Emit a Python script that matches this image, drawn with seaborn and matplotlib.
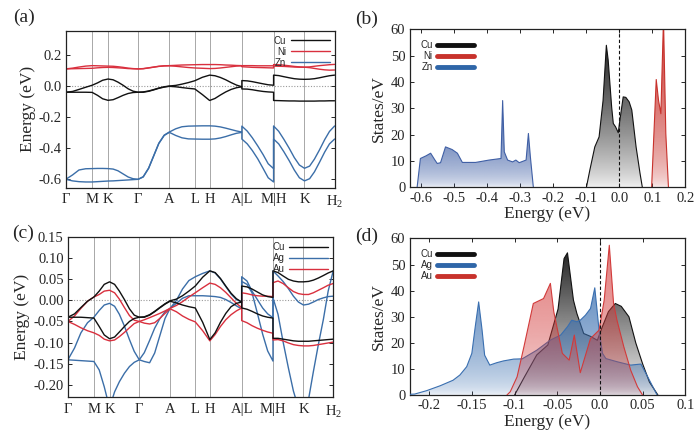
import numpy as np
import pandas as pd
import matplotlib
matplotlib.use("Agg")
import matplotlib.pyplot as plt
import matplotlib.colors as mcolors
from matplotlib.patches import PathPatch
from matplotlib.lines import Line2D
import seaborn as sns

sns.set_theme(style="ticks")
plt.rcParams["font.family"] = ["Liberation Serif", "DejaVu Serif"]
plt.rcParams["mathtext.fontset"] = "custom"
plt.rcParams["mathtext.rm"] = "Liberation Serif"
plt.rcParams["axes.edgecolor"] = "#222222"
plt.rcParams["axes.linewidth"] = 0.9

# ---------------- band structure data ----------------
k_ticks = [0.000, 0.098, 0.157, 0.269, 0.385, 0.480, 0.535, 0.655, 0.773, 0.888, 1.000]
k_labels = ["Γ", "M", "K", "Γ", "A", "L", "H", "A|L", "M|H", "K", "H$_2$"]

k_path = [
    0.000, 0.025, 0.049, 0.074, 0.098,                 # G-M
    0.118, 0.137, 0.157,                               # M-K
    0.176, 0.194, 0.213, 0.232, 0.250, 0.269,          # K-G
    0.288, 0.308, 0.327, 0.346, 0.366, 0.385,          # G-A
    0.409, 0.432, 0.456, 0.480,                        # A-L
    0.508, 0.535,                                      # L-H
    0.555, 0.575, 0.595, 0.615, 0.635, 0.655,          # H-A
    0.655, 0.675, 0.694, 0.714, 0.734, 0.753, 0.773,   # L-M
    0.773, 0.792, 0.811, 0.831, 0.850, 0.869, 0.888,   # H-K
    0.907, 0.925, 0.944, 0.963, 0.981, 1.000]          # K-H2

# panel (a): Cu / Ni / Zn
cu_a_up = [
    -0.040, -0.035, -0.022, -0.008, 0.005,
    0.020, 0.037, 0.045,
    0.040, 0.025, 0.005, -0.018, -0.033, -0.040,
    -0.038, -0.032, -0.023, -0.013, -0.005, 0.000,
    0.004, 0.012, 0.022, 0.034,
    0.056, 0.070,
    0.066, 0.055, 0.040, 0.022, 0.006, -0.005,
    0.035, 0.033, 0.028, 0.021, 0.014, 0.008, 0.005,
    0.070, 0.067, 0.060, 0.053, 0.047, 0.044, 0.043,
    0.044, 0.047, 0.053, 0.060, 0.066, 0.070]
cu_a_dn = [
    -0.040, -0.040, -0.040, -0.040, -0.041,
    -0.060, -0.082, -0.092,
    -0.088, -0.075, -0.060, -0.048, -0.042, -0.040,
    -0.040, -0.034, -0.025, -0.015, -0.007, -0.002,
    -0.005, -0.010, -0.015, -0.019,
    -0.055, -0.093,
    -0.080, -0.058, -0.038, -0.022, -0.011, -0.005,
    -0.019, -0.020, -0.024, -0.030, -0.035, -0.038, -0.040,
    -0.093, -0.094, -0.095, -0.096, -0.096, -0.097, -0.097,
    -0.097, -0.097, -0.096, -0.096, -0.095, -0.095]
ni_a_up = [
    0.110, 0.115, 0.122, 0.128, 0.131,
    0.130, 0.129, 0.128,
    0.127, 0.124, 0.120, 0.115, 0.112, 0.110,
    0.112, 0.117, 0.122, 0.127, 0.130, 0.131,
    0.133, 0.135, 0.136, 0.137,
    0.138, 0.138,
    0.138, 0.137, 0.135, 0.134, 0.132, 0.131,
    0.131, 0.131, 0.131, 0.130, 0.130, 0.130, 0.130,
    0.138, 0.137, 0.134, 0.130, 0.126, 0.123, 0.121,
    0.123, 0.127, 0.131, 0.134, 0.137, 0.139]
ni_a_dn = [
    0.110, 0.111, 0.112, 0.113, 0.114,
    0.117, 0.119, 0.120,
    0.119, 0.117, 0.115, 0.112, 0.111, 0.110,
    0.111, 0.116, 0.121, 0.126, 0.129, 0.130,
    0.127, 0.123, 0.119, 0.116,
    0.114, 0.112,
    0.113, 0.116, 0.120, 0.124, 0.128, 0.130,
    0.124, 0.122, 0.120, 0.119, 0.118, 0.117, 0.116,
    0.128, 0.127, 0.126, 0.124, 0.122, 0.121, 0.121,
    0.118, 0.113, 0.108, 0.104, 0.102, 0.103]
zn_a_up = [
    -0.600, -0.572, -0.540, -0.532, -0.531,
    -0.530, -0.530, -0.531,
    -0.534, -0.545, -0.565, -0.585, -0.596, -0.600,
    -0.583, -0.528, -0.448, -0.368, -0.316, -0.296,
    -0.275, -0.262, -0.258, -0.257,
    -0.256, -0.256,
    -0.258, -0.263, -0.271, -0.280, -0.289, -0.296,
    -0.258, -0.290, -0.333, -0.385, -0.441, -0.500, -0.531,
    -0.257, -0.291, -0.342, -0.400, -0.460, -0.508, -0.529,
    -0.515, -0.470, -0.410, -0.345, -0.292, -0.257]
zn_a_dn = [
    -0.600, -0.610, -0.615, -0.617, -0.617,
    -0.615, -0.613, -0.611,
    -0.610, -0.608, -0.606, -0.604, -0.602, -0.600,
    -0.585, -0.530, -0.450, -0.370, -0.318, -0.298,
    -0.318, -0.333, -0.340, -0.341,
    -0.342, -0.342,
    -0.340, -0.334, -0.325, -0.314, -0.304, -0.298,
    -0.341, -0.372, -0.415, -0.468, -0.530, -0.590, -0.617,
    -0.341, -0.372, -0.422, -0.480, -0.540, -0.590, -0.610,
    -0.596, -0.552, -0.490, -0.425, -0.372, -0.341]

# panel (c): Cu / Ag / Au
cu_c_up = [
    -0.040, -0.032, -0.017, -0.002, 0.008,
    0.022, 0.038, 0.044,
    0.038, 0.022, 0.002, -0.020, -0.035, -0.040,
    -0.039, -0.034, -0.026, -0.017, -0.008, -0.001,
    0.003, 0.011, 0.022, 0.034,
    0.055, 0.070,
    0.066, 0.052, 0.034, 0.017, 0.004, -0.004,
    0.034, 0.032, 0.027, 0.020, 0.013, 0.009, 0.007,
    0.070, 0.066, 0.058, 0.050, 0.046, 0.044, 0.044,
    0.045, 0.048, 0.053, 0.059, 0.065, 0.070]
cu_c_dn = [
    -0.040, -0.040, -0.040, -0.041, -0.042,
    -0.062, -0.082, -0.091,
    -0.087, -0.075, -0.062, -0.050, -0.043, -0.040,
    -0.040, -0.035, -0.027, -0.018, -0.009, -0.002,
    -0.006, -0.011, -0.015, -0.018,
    -0.052, -0.093,
    -0.077, -0.052, -0.031, -0.015, -0.007, -0.004,
    -0.018, -0.021, -0.026, -0.032, -0.037, -0.040, -0.042,
    -0.090, -0.090, -0.092, -0.094, -0.096, -0.097, -0.097,
    -0.097, -0.096, -0.095, -0.094, -0.093, -0.092]
au_c_up = [
    -0.050, -0.037, -0.019, -0.002, 0.008,
    0.014, 0.022, 0.024,
    0.018, 0.003, -0.017, -0.036, -0.047, -0.050,
    -0.046, -0.041, -0.036, -0.031, -0.025, -0.019,
    -0.012, -0.003, 0.008, 0.018,
    0.030, 0.041,
    0.038, 0.030, 0.019, 0.006, -0.007, -0.017,
    0.018, 0.016, 0.013, 0.011, 0.010, 0.010, 0.009,
    0.042, 0.046, 0.040, 0.030, 0.021, 0.016, 0.014,
    0.014, 0.018, 0.024, 0.030, 0.036, 0.040]
au_c_dn = [
    -0.050, -0.057, -0.065, -0.072, -0.077,
    -0.083, -0.092, -0.096,
    -0.094, -0.086, -0.076, -0.065, -0.055, -0.050,
    -0.054, -0.056, -0.053, -0.043, -0.031, -0.020,
    -0.027, -0.037, -0.045, -0.051,
    -0.072, -0.096,
    -0.081, -0.062, -0.046, -0.034, -0.025, -0.018,
    -0.048, -0.053, -0.060, -0.066, -0.071, -0.075, -0.078,
    -0.094, -0.093, -0.096, -0.101, -0.105, -0.107, -0.108,
    -0.108, -0.107, -0.105, -0.103, -0.101, -0.099]
ag_c_1 = [
    -0.141, -0.113, -0.077, -0.053, -0.040,
    -0.024, -0.011, -0.007,
    -0.014, -0.033, -0.061, -0.093, -0.121, -0.141,
    -0.124, -0.095, -0.066, -0.044, -0.027, -0.019,
    0.000, 0.027, 0.047, 0.056,
    0.064, 0.070,
    0.065, 0.051, 0.033, 0.015, 0.002, -0.004,
    0.056, 0.046, 0.022, 0.002, -0.018, -0.032, -0.041,
    0.070, 0.058, 0.045, 0.028, 0.010, -0.004, -0.011,
    -0.009, -0.004, 0.002, 0.006, 0.009, 0.010]
ag_c_2 = [
    -0.141, -0.142, -0.143, -0.144, -0.145,
    -0.165, -0.205, -0.255,
    -0.217, -0.193, -0.173, -0.157, -0.147, -0.141,
    -0.145, -0.148, -0.125, -0.085, -0.043, -0.019,
    -0.007, 0.005, 0.011, 0.011,
    0.011, 0.010,
    0.009, 0.007, 0.002, -0.005, -0.013, -0.020,
    0.045, 0.038, 0.018, -0.030, -0.080, -0.120, -0.144,
    0.006, -0.033, -0.098, -0.160, -0.215, -0.255, -0.270,
    -0.235, -0.170, -0.105, -0.045, 0.022, 0.070]

# ---------------- DOS data ----------------
zn_E_b = [-0.612, -0.602, -0.585, -0.571, -0.558, -0.551, -0.541, -0.526, -0.506, -0.490,
          -0.475, -0.435, -0.394, -0.358, -0.353, -0.348, -0.338, -0.323, -0.313, -0.303,
          -0.282, -0.275, -0.269, -0.260]
zn_dos_b = [0, 11, 12, 13, 10.4, 9.1, 9.4, 15.4, 14.4, 13,
            9.5, 9.5, 10.4, 11, 33, 13.5, 10.4, 9.7, 10.4, 9.4,
            10.4, 20.5, 11.6, 0]
cu_E_b = [-0.0995, -0.089, -0.074, -0.061, -0.049, -0.039, -0.0335, -0.023, -0.018, -0.011,
          -0.003, 0.002, 0.012, 0.020, 0.030, 0.038, 0.051, 0.063, 0.070]
cu_dos_b = [0, 6.6, 15.4, 19.2, 33, 54, 48.4, 30.6, 24.3, 23,
            20.8, 25.6, 34.4, 34.2, 32.5, 29.4, 15.4, 5.3, 0]
ni_E_b = [0.098, 0.112, 0.119, 0.126, 0.134, 0.141, 0.149]
ni_dos_b = [0, 41, 33, 28, 64, 20.5, 0]

ag_E_d = [-0.224, -0.217, -0.203, -0.187, -0.172, -0.164, -0.156, -0.150, -0.146, -0.142,
          -0.138, -0.135, -0.129, -0.121, -0.113, -0.101, -0.091, -0.074, -0.058, -0.046,
          -0.038, -0.033, -0.027, -0.023, -0.017, -0.011, -0.006, -0.001, 0.003, 0.007,
          0.020, 0.036, 0.048, 0.056, 0.067]
ag_dos_d = [0.3, 0.4, 1.7, 3.6, 5.7, 7.7, 10.9, 16.0, 26.2, 35.7,
            24.9, 15.3, 11.5, 12.4, 13.1, 13.8, 13.9, 17.2, 21.1, 23.0,
            26.2, 28.7, 28.1, 28.7, 30.6, 33.2, 41.1, 24.9, 16.0, 14.0,
            12.8, 11.5, 11.9, 7.0, 0]
au_E_d = [-0.109, -0.105, -0.097, -0.089, -0.078, -0.066, -0.058, -0.054, -0.044, -0.036,
          -0.030, -0.023, -0.011, -0.001, 0.005, 0.011, 0.016, 0.020, 0.028, 0.036,
          0.044, 0.050]
au_dos_d = [0, 1.3, 7.0, 18.5, 35.1, 37.0, 42.8, 31.9, 16.0, 13.4,
            23.0, 8.6, 21.7, 24.9, 36.4, 57.4, 35.1, 28.7, 18.5, 9.6,
            3.2, 0]
cu_E_d = [-0.100, -0.089, -0.074, -0.061, -0.049, -0.042, -0.038, -0.031, -0.027, -0.019,
          -0.011, -0.003, 0.002, 0.010, 0.018, 0.025, 0.034, 0.042, 0.050, 0.058, 0.068]
cu_dos_d = [0, 6.6, 15.4, 19.2, 33, 52.3, 54.5, 36.4, 31.3, 23.6,
            22.5, 21.0, 25.5, 32.0, 35.1, 34.0, 30.0, 20.0, 12.0, 5.0, 0]

colors = {"Cu": "#111111", "Ni": "#d9303e", "Au": "#d9303e", "Zn": "#3b6ea8", "Ag": "#3b6ea8"}
legend_font = {"family": "Liberation Sans", "size": 7}


def draw_bands(ax, bands, ylim, yticks, ylabels, names):
    rows = []
    for i, (elem, vals) in enumerate(bands):
        for kk, ee in zip(k_path, vals):
            rows.append({"k": kk, "E": ee, "element": elem, "band": i})
    df = pd.DataFrame(rows)
    for kp in k_ticks[1:-1]:
        ax.axvline(kp, color="#a8a8a8", lw=0.7, zorder=0)
    ax.axhline(0, color="#9a9a9a", lw=0.8, ls=(0, (1, 1.5)), zorder=0)
    sns.lineplot(data=df, x="k", y="E", hue="element", units="band", estimator=None,
                 sort=False, palette=colors, linewidth=1.0, legend=False, ax=ax)
    ax.set_xlim(0, 1)
    ax.set_ylim(*ylim)
    ax.set_xticks(k_ticks)
    ax.set_xticklabels(k_labels)
    ax.set_yticks(yticks)
    ax.set_yticklabels(ylabels)
    ax.set_xlabel("")
    ax.set_ylabel("Energy (eV)", fontsize=12.5, labelpad=2)
    ax.tick_params(axis="y", direction="in", length=3, width=0.7, right=True, labelsize=10.5, pad=3)
    ax.tick_params(axis="x", length=0, labelsize=10.5, pad=4)
    handles = [Line2D([], [], color=colors[n], lw=1.0) for n in names]
    ax.legend(handles, names, loc="upper right", frameon=False, markerfirst=False, prop=legend_font,
              handlelength=4.0, handletextpad=0.5, labelspacing=0.1, borderaxespad=0.3, borderpad=0.2)


def dos_fill(ax, E, D, color, z, amax=0.92, power=0.5):
    sns.lineplot(x=E, y=D, color=color, lw=0.8, sort=False, estimator=None, ax=ax, zorder=z + 0.5)
    poly = ax.fill_between(E, 0, D, facecolor="none", edgecolor="none", zorder=z)
    grad = np.zeros((256, 1, 4))
    grad[..., :3] = mcolors.to_rgb(color)
    t = np.linspace(0, 1, 256)
    grad[..., 3] = (0.06 + (amax - 0.06) * t ** power)[:, None]
    im = ax.imshow(grad, aspect="auto", origin="lower", extent=[min(E), max(E), 0, max(D)],
                   zorder=z, interpolation="bilinear")
    clip = PathPatch(poly.get_paths()[0], transform=ax.transData, facecolor="none", edgecolor="none")
    ax.add_patch(clip)
    im.set_clip_path(clip)


def style_dos(ax, xlim, xticks, xlabels, names, cols):
    ax.axvline(0, color="#111111", lw=0.8, ls=(0, (3, 2)), zorder=6)
    ax.set_xlim(*xlim)
    ax.set_ylim(0, 60)
    ax.set_xticks(xticks)
    ax.set_xticklabels(xlabels)
    ax.set_yticks(range(0, 61, 10))
    ax.set_xlabel("Energy (eV)", fontsize=12.5, labelpad=1)
    ax.set_ylabel("States/eV", fontsize=12.5, labelpad=3)
    ax.tick_params(direction="in", length=3, width=0.7, top=True, right=True, labelsize=10.5, pad=3)
    handles = [Line2D([], [], color=c, lw=3.5) for c in cols]
    ax.legend(handles, names, loc="upper left", frameon=False, markerfirst=False, prop=legend_font,
              handlelength=3.8, handletextpad=0.5, labelspacing=0.1, borderaxespad=0.9, borderpad=0.2)


fig = plt.figure(figsize=(7, 4.4), dpi=100)
ax_a = fig.add_axes([0.094, 0.573, 0.384, 0.357])
ax_b = fig.add_axes([0.585, 0.574, 0.394, 0.359])
ax_c = fig.add_axes([0.097, 0.097, 0.379, 0.364])
ax_d = fig.add_axes([0.585, 0.102, 0.394, 0.356])

draw_bands(ax_a, [("Cu", cu_a_up), ("Cu", cu_a_dn), ("Ni", ni_a_up), ("Ni", ni_a_dn),
                  ("Zn", zn_a_up), ("Zn", zn_a_dn)],
           (-0.655, 0.355), [0.2, 0.0, -0.2, -0.4, -0.6], ["0.2", "0.0", "-0.2", "-0.4", "-0.6"],
           ["Cu", "Ni", "Zn"])
draw_bands(ax_c, [("Ag", ag_c_1), ("Ag", ag_c_2), ("Au", au_c_up), ("Au", au_c_dn),
                  ("Cu", cu_c_up), ("Cu", cu_c_dn)],
           (-0.23, 0.15), [0.15, 0.10, 0.05, 0.0, -0.05, -0.10, -0.15, -0.20],
           ["0.15", "0.10", "0.05", "0.00", "-0.05", "-0.10", "-0.15", "-0.20"],
           ["Cu", "Ag", "Au"])

# (b)
dos_fill(ax_b, zn_E_b, zn_dos_b, "#3f5fa5", 2)
dos_fill(ax_b, cu_E_b, cu_dos_b, "#111111", 2, power=0.8)
dos_fill(ax_b, ni_E_b, ni_dos_b, "#c8322c", 2)
style_dos(ax_b, (-0.635, 0.2), [-0.6, -0.5, -0.4, -0.3, -0.2, -0.1, 0.0, 0.1, 0.2],
          ["-0.6", "-0.5", "-0.4", "-0.3", "-0.2", "-0.1", "0.0", "0.1", "0.2"],
          ["Cu", "Ni", "Zn"], ["#111111", "#c8322c", "#2f66a8"])

# (d)
dos_fill(ax_d, cu_E_d, cu_dos_d, "#111111", 2, power=1.0)
dos_fill(ax_d, ag_E_d, ag_dos_d, "#3a6fb0", 3, amax=0.75)
dos_fill(ax_d, au_E_d, au_dos_d, "#d23a3a", 4, amax=0.65)
style_dos(ax_d, (-0.223, 0.1), [-0.2, -0.15, -0.1, -0.05, 0.0, 0.05, 0.1],
          ["-0.2", "-0.15", "-0.1", "-0.05", "0.0", "0.05", "0.1"],
          ["Cu", "Ag", "Au"], ["#111111", "#2f66a8", "#c8322c"])

for x, y, s in [(0.019, 0.960, "(a)"), (0.507, 0.955, "(b)"), (0.017, 0.469, "(c)"), (0.507, 0.462, "(d)")]:
    fig.text(x, y, s, fontsize=14, ha="left", va="center")

fig.savefig("out.png", dpi=100)
